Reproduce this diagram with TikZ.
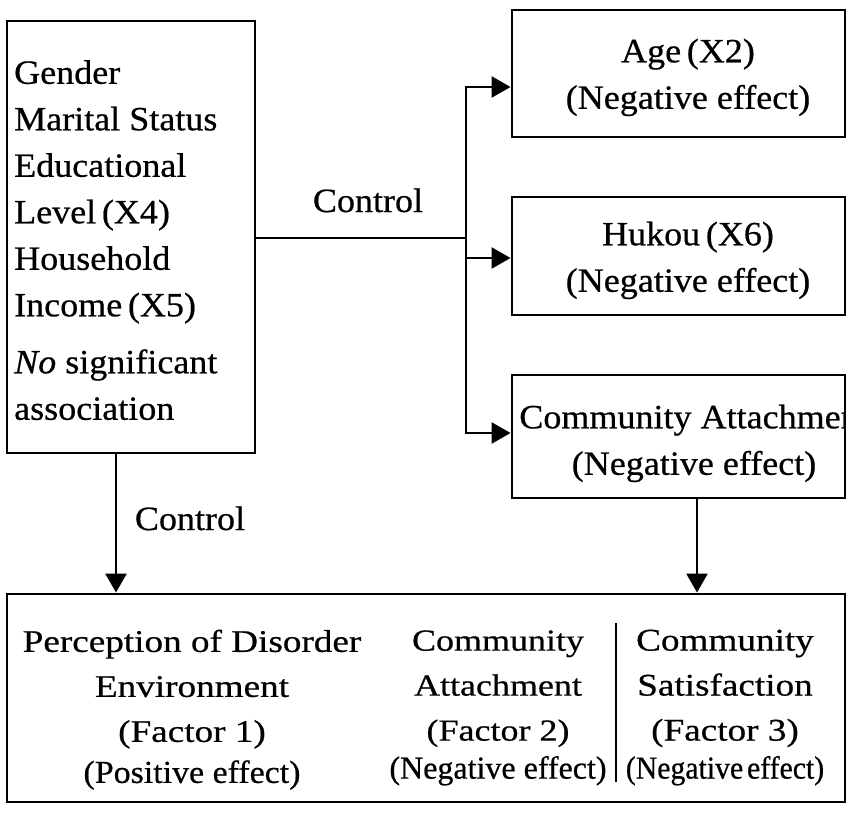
\documentclass[tikz,border=0pt]{standalone}
\usepackage{fontspec}
\setmainfont{Liberation Serif}[FakeStretch=1.06,FakeBold=0.6]
\newfontfamily\bfont{Liberation Serif}[FakeStretch=1.18,FakeBold=0.6]
\newfontfamily\nfont{Liberation Serif}[FakeBold=0.6]
\newfontfamily\cfont{Liberation Serif}[FakeStretch=0.93,FakeBold=0.6]
\usetikzlibrary{arrows.meta}
\begin{document}
\begin{tikzpicture}[x=1pt,y=-1pt,
  box/.style={draw, line width=2.9pt, inner sep=0pt, rectangle},
  conn/.style={line width=2.6pt},
  arr/.style={line width=2.6pt, -{Triangle[length=19pt,width=21pt]}},
  lbl/.style={inner sep=0pt, font=\fontsize{34}{46.5}\selectfont},
  blbl/.style={inner sep=0pt, align=center, font=\bfont\fontsize{31.5}{45}\selectfont},
]
\useasboundingbox (0,0) rectangle (851,812);
% boxes
\node[box, minimum width=248pt, minimum height=432pt] (left) at (131,237) {};
\node[box, minimum width=333pt, minimum height=127pt] (age) at (678.5,73.5) {};
\node[box, minimum width=333pt, minimum height=118pt] (hukou) at (678.5,256) {};
\node[box, minimum width=333pt, minimum height=123pt] (ca) at (678.5,436.5) {};
\node[box, minimum width=838pt, minimum height=208pt] (bot) at (426,698) {};
% texts
\node[lbl, align=left, anchor=north west] (lefttxt) at (14,60)
  {Gender\\Marital Status\\Educational\\Level\,(X4)\\Household\\Income\,(X5)\\[10.5pt]\textit{No} significant\\association};
\node[lbl, align=center, anchor=north] (agetxt) at (688,38.5) {Age\,(X2)\\(Negative effect)};
\node[lbl, align=center, anchor=north] (hukoutxt) at (688,221.5) {Hukou\,(X6)\\(Negative effect)};
\begin{scope}
  \clip ([xshift=1.4pt,yshift=-1.4pt]ca.north west) rectangle ([xshift=-1.4pt,yshift=1.4pt]ca.south east);
  \node[lbl, align=center, anchor=north] (catxt) at (694,404.5) {Community Attachment\\(Negative effect)};
\end{scope}
\node[lbl, anchor=base] (ctrl1) at (368,212) {Control};
\node[lbl, anchor=base] (ctrl2) at (190,530) {Control};
\node[blbl, anchor=north] (f1) at (192,629.5)
  {Perception of Disorder\\Environment\\(Factor 1)\\[-4pt]{\rmfamily\fontsize{32}{32}\selectfont(Positive effect)}};
\node[blbl, anchor=north, font=\bfont\fontsize{30.5}{45}\selectfont] (f2) at (498,630.2)
  {Community\\Attachment\\(Factor 2)\\[-7pt]{\nfont\fontsize{32}{32}\selectfont(Negative effect)}};
\node[blbl, anchor=north] (f3) at (725,629.5)
  {Community\\Satisfaction\\(Factor 3)\\[-7pt]{\cfont\fontsize{32}{32}\selectfont(Negative\hspace{0.12em}effect)}};
\draw[line width=2.4pt] (616,623) -- (616,782);
% connectors
\coordinate (j0) at (466,238);
\coordinate (j1) at (466,87);
\coordinate (j2) at (466,258);
\coordinate (j3) at (466,433);
\draw[conn] (left.east |- j0) -- (j0);
\draw[arr] (j0) -- (j1) -- (j1 -| age.west);
\draw[arr] (j0) -- (j3) -- (j3 -| ca.west);
\draw[arr] (j2) -- (j2 -| hukou.west);
\coordinate (d1) at (116,0);
\coordinate (d2) at (697,0);
\draw[arr] (left.south -| d1) -- (bot.north -| d1);
\draw[arr] (ca.south -| d2) -- (bot.north -| d2);
\end{tikzpicture}
\end{document}
